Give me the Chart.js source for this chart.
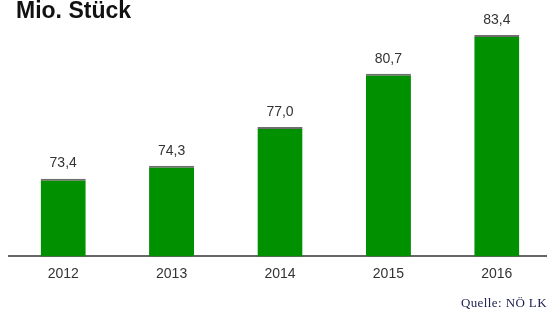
<!DOCTYPE html>
<html>
<head>
<meta charset="utf-8">
<script src="https://cdn.jsdelivr.net/npm/chart.js@4.4.0/dist/chart.umd.min.js"></script>
<style>
  html, body { margin: 0; padding: 0; background: #fff; overflow: hidden; }
  #wrap { position: relative; width: 547px; height: 311px; overflow: hidden; }
  #box { position: absolute; left: 0; top: 0; width: 551px; height: 311px; }
  #title { position: absolute; left: 16px; top: -3px; font: bold 23px "Liberation Sans", Arial, sans-serif; color: #111; }
  #source { position: absolute; right: 0; top: 295px; font: 13px "Liberation Serif", "Times New Roman", serif; color: #1c1c50; letter-spacing: 0.4px; }
</style>
</head>
<body>
<div id="wrap">
  <div id="box"><canvas id="chart"></canvas></div>
  <div id="title">Mio. Stück</div>
  <div id="source">Quelle: NÖ LK</div>
</div>
<script>
// Data
const years = ['2012', '2013', '2014', '2015', '2016'];
const pieces = [73.4, 74.3, 77.0, 80.7, 83.4];

// value labels above the bars, German decimal comma
const valueLabels = {
    id: 'valueLabels',
    afterDatasetsDraw(chart) {
        const ctx = chart.ctx;
        const meta = chart.getDatasetMeta(0);
        ctx.save();
        ctx.font = '14px "Liberation Sans", Arial, sans-serif';
        ctx.fillStyle = '#333';
        ctx.textAlign = 'center';
        ctx.textBaseline = 'middle';
        meta.data.forEach((bar, i) => {
            ctx.fillText(pieces[i].toFixed(1).replace('.', ','), bar.x, bar.y - 15);
        });
        ctx.restore();
    }
};

const ctx = document.getElementById('chart').getContext('2d');
const chart = new Chart(ctx, {
    type: 'bar',
    data: {
        labels: years,
        datasets: [{
            data: pieces,
            backgroundColor: '#009000',
            borderColor: '#6e6e6e',
            borderWidth: { top: 2, left: 0, right: 0, bottom: 0 },
            borderSkipped: 'bottom',
            barPercentage: 0.416,
            categoryPercentage: 1
        }]
    },
    options: {
        responsive: true,
        maintainAspectRatio: false,
        animation: false,
        layout: { padding: { left: 9, right: 0, top: 12, bottom: 18 } },
        plugins: {
            legend: { display: false },
            tooltip: { enabled: false }
        },
        scales: {
            x: {
                grid: { display: false, drawTicks: false },
                border: { display: true, color: '#666', width: 2 },
                ticks: {
                    padding: 10,
                    color: '#333',
                    font: { family: '"Liberation Sans", Arial, sans-serif', size: 14 }
                }
            },
            y: {
                display: false,
                min: 68,
                max: 85
            }
        }
    },
    plugins: [valueLabels]
});
</script>
</body>
</html>
